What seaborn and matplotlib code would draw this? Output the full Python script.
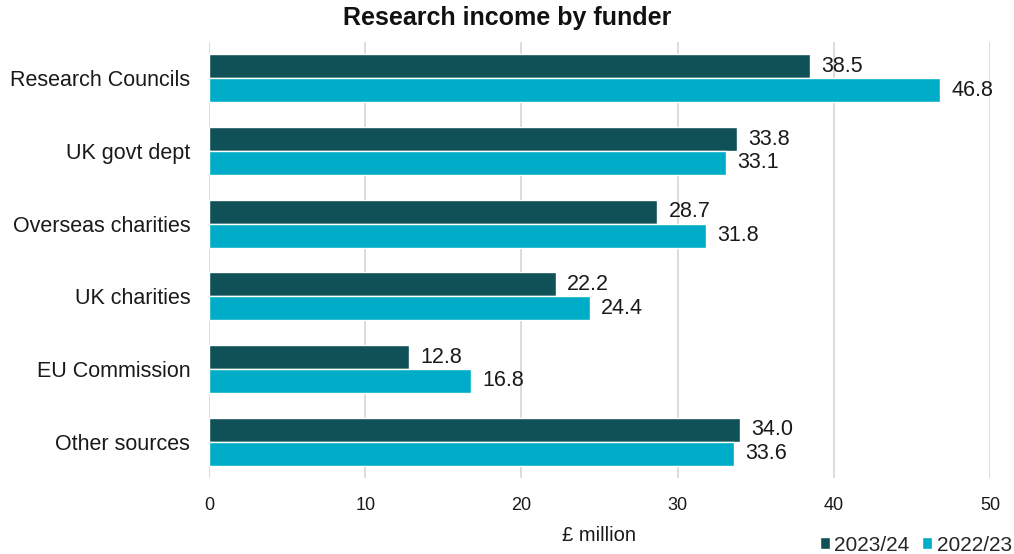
import matplotlib
matplotlib.use("Agg")
import matplotlib.pyplot as plt
import seaborn as sns
import pandas as pd

categories = ["Research Councils", "UK govt dept", "Overseas charities",
              "UK charities", "EU Commission", "Other sources"]
series_names = ["2023/24", "2022/23"]
values_2324 = [38.5, 33.8, 28.7, 22.2, 12.8, 34.0]
values_2223 = [46.8, 33.1, 31.8, 24.4, 16.8, 33.6]
x_ticks = [0, 10, 20, 30, 40, 50]

df = pd.DataFrame({
    "funder": categories * 2,
    "year": [series_names[0]] * len(categories) + [series_names[1]] * len(categories),
    "value": values_2324 + values_2223,
})

sns.set_theme(style="white")
plt.rcParams['font.family'] = ['Liberation Sans', 'DejaVu Sans']

fig = plt.figure(figsize=(10.14, 5.54), dpi=100)
ax = fig.add_axes([209/1014, 1 - 478/554, (990-209)/1014, (478-42)/554])

palette = {"2023/24": "#0F5157", "2022/23": "#00ADC8"}
sns.barplot(data=df, y="funder", x="value", hue="year", order=categories,
            hue_order=series_names, palette=palette, orient="h", width=0.66,
            edgecolor="white", linewidth=1.0, saturation=1, ax=ax, legend=True)

for cont in ax.containers:
    ax.bar_label(cont, fmt="%.1f", padding=8, fontsize=15.5, color="#1a1a1a")

ax.set_xlim(0, 50)
ax.set_xticks(x_ticks)
ax.set_xticklabels([str(t) for t in x_ticks])
ax.set_ylim(5.5, -0.5)
ax.grid(axis="x", color="#d9d9d9", linewidth=1.3)
ax.set_axisbelow(True)
for s in ax.spines.values():
    s.set_visible(False)
ax.tick_params(axis="x", length=0, pad=14, labelsize=13, labelcolor="#1a1a1a")
ax.tick_params(axis="y", length=0, pad=13.5, labelsize=15.5, labelcolor="#1a1a1a")
ax.set_ylabel("")
ax.set_xlabel("£ million", fontsize=14.5, color="#1a1a1a", labelpad=8)

handles, labels = ax.get_legend_handles_labels()
ax.get_legend().remove()
fig.legend(handles, labels, loc="lower right", bbox_to_anchor=(1.010, -0.024),
           ncol=2, frameon=False, fontsize=15, handlelength=0.5, handleheight=0.5,
           handletextpad=0.2, columnspacing=0.6, borderaxespad=0.2)

fig.suptitle("Research income by funder", x=0.5, y=0.99, fontsize=18,
             fontweight="bold", color="#111111")

fig.savefig("out.png", dpi=100)
